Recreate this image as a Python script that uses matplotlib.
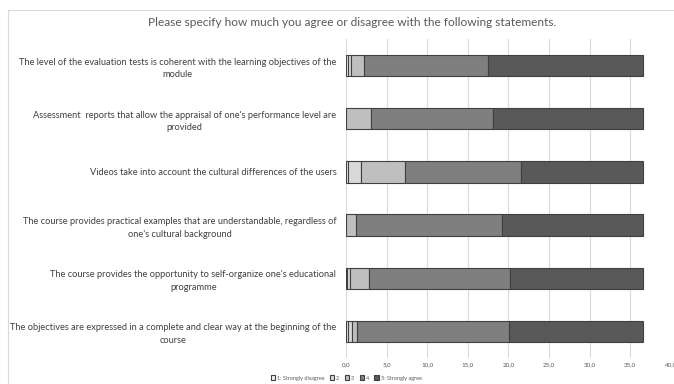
import numpy as np
import matplotlib.pyplot as plt
from matplotlib.patches import Rectangle

plt.rcParams['font.family'] = ['Lato', 'DejaVu Sans']

statements = [
    "The level of the evaluation tests is coherent with the learning objectives of the\nmodule",
    "Assessment  reports that allow the appraisal of one's performance level are\nprovided",
    "Videos take into account the cultural differences of the users",
    "The course provides practical examples that are understandable, regardless of\none's cultural background",
    "The course provides the opportunity to self-organize one's educational\nprogramme",
    "The objectives are expressed in a complete and clear way at the beginning of the\ncourse",
]
levels = ["1: Strongly disagree", "2", "3", "4", "5: Strongly agree"]

# values (mean counts per answer)
strongly_disagree = [0.25, 0.0, 0.3, 0.0, 0.15, 0.3]
disagree = [0.4, 0.0, 1.6, 0.0, 0.35, 0.4]
neutral = [1.6, 3.1, 5.4, 1.25, 2.3, 0.6]
agree = [15.25, 15.0, 14.3, 17.95, 17.35, 18.8]
strongly_agree = [19.0, 18.4, 14.9, 17.3, 16.35, 16.4]

colors = ["#f2f2f2", "#d9d9d9", "#bfbfbf", "#7f7f7f", "#595959"]
series = [strongly_disagree, disagree, neutral, agree, strongly_agree]

fig = plt.figure(figsize=(6.74, 3.84), dpi=100)
ax = fig.add_axes([0.5134, 0.0677, 0.4821, 0.8307])

# light frame round the chart
fig.patches.append(Rectangle((8 / 674, -0.01), 1.0, 1 - 10 / 384 + 0.01,
                             transform=fig.transFigure, fill=False,
                             edgecolor="#d9d9d9", linewidth=0.8))

y = np.arange(len(statements))
left = np.zeros(len(statements))
for vals, col, lab in zip(series, colors, levels):
    ax.barh(y, vals, left=left, height=0.4, color=col, edgecolor="#404040",
            linewidth=0.8, label=lab, zorder=3)
    left += np.array(vals)

ax.set_ylim(len(statements) - 0.5, -0.5)
ax.set_xlim(0, 40)
ax.set_xticks(np.arange(0, 41, 5))
ax.set_xticklabels([f"{v:.1f}".replace(".", ",") for v in np.arange(0, 41, 5)],
                   fontsize=4.5, color="#595959")
ax.set_yticks(y)
ax.set_yticklabels(statements, fontsize=6.65, color="#404040",
                   multialignment="center", linespacing=1.5)
ax.tick_params(axis="x", length=0, pad=3)
ax.tick_params(axis="y", length=0, pad=7)
ax.grid(axis="x", color="#d9d9d9", linewidth=0.8, zorder=0)
for s in ax.spines.values():
    s.set_visible(False)

fig.text(352 / 674, 1 - 22 / 384, "Please specify how much you agree or disagree with the following statements.",
         ha="center", va="center", fontsize=8.6, color="#595959")

fig.legend(loc="center", bbox_to_anchor=(346 / 674, 1 - 378 / 384),
           ncol=5, frameon=False, fontsize=4, handlelength=0.8, handleheight=0.8,
           handletextpad=0.3, columnspacing=1.0, labelcolor="#595959")

fig.savefig("out.png", dpi=100)
